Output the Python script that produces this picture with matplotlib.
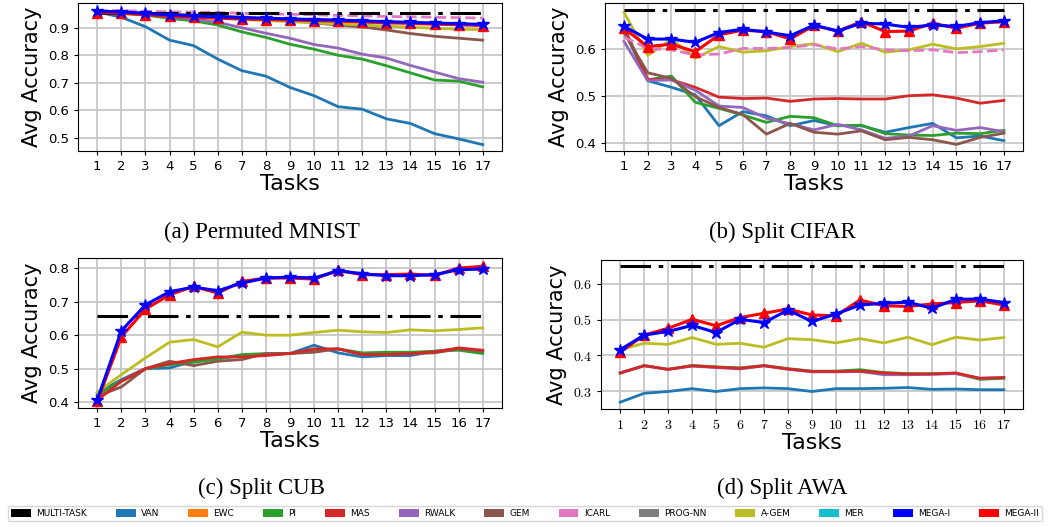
import matplotlib
matplotlib.use('Agg')
import matplotlib.pyplot as plt
from matplotlib.patches import Patch

plt.rcParams['mathtext.fontset'] = 'cm'

tasks = list(range(1, 18))

# ---------------- (a) Permuted MNIST ----------------
mnist_multitask = 0.955
mnist_van = [0.958, 0.938, 0.904, 0.855, 0.835, 0.786, 0.744, 0.724, 0.683, 0.653,
             0.613, 0.604, 0.569, 0.552, 0.515, 0.496, 0.475]
mnist_pi = [0.958, 0.952, 0.946, 0.934, 0.925, 0.91, 0.885, 0.865, 0.84, 0.822,
            0.8, 0.786, 0.762, 0.736, 0.71, 0.706, 0.685]
mnist_rwalk = [0.958, 0.955, 0.948, 0.94, 0.932, 0.92, 0.9, 0.88, 0.862, 0.839,
               0.826, 0.804, 0.79, 0.763, 0.739, 0.715, 0.702]
mnist_gem = [0.957, 0.955, 0.952, 0.949, 0.946, 0.943, 0.938, 0.932, 0.925, 0.918,
             0.91, 0.903, 0.892, 0.879, 0.869, 0.862, 0.855]
mnist_icarl = [0.963, 0.962, 0.96, 0.958, 0.957, 0.955, 0.953, 0.951, 0.949, 0.947,
               0.945, 0.943, 0.941, 0.94, 0.938, 0.937, 0.935]
mnist_agem = [0.957, 0.955, 0.95, 0.945, 0.94, 0.935, 0.93, 0.926, 0.922, 0.918,
              0.914, 0.91, 0.906, 0.902, 0.898, 0.895, 0.893]
mnist_mega1 = [0.96, 0.958, 0.952, 0.947, 0.944, 0.94, 0.937, 0.935, 0.932, 0.93,
               0.928, 0.925, 0.922, 0.92, 0.917, 0.915, 0.912]
mnist_mega2 = [0.955, 0.953, 0.948, 0.942, 0.938, 0.935, 0.932, 0.93, 0.928, 0.926,
               0.924, 0.921, 0.918, 0.916, 0.913, 0.911, 0.908]

# ---------------- (b) Split CIFAR ----------------
cifar_multitask = 0.683
cifar_van = [0.64, 0.532, 0.518, 0.502, 0.436, 0.466, 0.457, 0.436, 0.447, 0.436,
             0.436, 0.422, 0.432, 0.441, 0.41, 0.414, 0.404]
cifar_pi = [0.645, 0.534, 0.542, 0.486, 0.473, 0.459, 0.443, 0.456, 0.453, 0.436,
            0.437, 0.419, 0.416, 0.415, 0.42, 0.419, 0.426]
cifar_mas = [0.645, 0.535, 0.534, 0.518, 0.497, 0.494, 0.495, 0.488, 0.493, 0.494,
             0.493, 0.493, 0.5, 0.502, 0.495, 0.484, 0.49]
cifar_rwalk = [0.616, 0.532, 0.534, 0.512, 0.478, 0.475, 0.452, 0.44, 0.427, 0.439,
               0.427, 0.409, 0.414, 0.436, 0.426, 0.432, 0.423]
cifar_gem = [0.635, 0.549, 0.537, 0.498, 0.475, 0.46, 0.418, 0.441, 0.422, 0.418,
             0.425, 0.406, 0.411, 0.406, 0.396, 0.411, 0.42]
cifar_icarl = [0.625, 0.601, 0.598, 0.587, 0.589, 0.601, 0.601, 0.603, 0.609, 0.6,
               0.605, 0.598, 0.596, 0.598, 0.592, 0.594, 0.598]
cifar_agem = [0.678, 0.586, 0.621, 0.58, 0.605, 0.593, 0.596, 0.605, 0.611, 0.594,
              0.612, 0.593, 0.598, 0.61, 0.6, 0.605, 0.612]
cifar_mega1 = [0.648, 0.621, 0.621, 0.614, 0.635, 0.642, 0.636, 0.628, 0.651, 0.638,
               0.655, 0.653, 0.646, 0.651, 0.648, 0.656, 0.66]
cifar_mega2 = [0.644, 0.605, 0.61, 0.594, 0.63, 0.64, 0.637, 0.621, 0.65, 0.638,
               0.658, 0.637, 0.638, 0.655, 0.644, 0.655, 0.658]

# ---------------- (c) Split CUB ----------------
cub_multitask = 0.656
cub_van = [0.427, 0.467, 0.5, 0.502, 0.522, 0.529, 0.539, 0.542, 0.545, 0.57,
           0.547, 0.535, 0.539, 0.539, 0.552, 0.559, 0.552]
cub_pi = [0.422, 0.462, 0.499, 0.512, 0.519, 0.529, 0.542, 0.545, 0.545, 0.555,
          0.559, 0.547, 0.549, 0.549, 0.552, 0.555, 0.545]
cub_mas = [0.405, 0.462, 0.5, 0.515, 0.527, 0.535, 0.535, 0.539, 0.545, 0.559,
           0.559, 0.542, 0.542, 0.545, 0.55, 0.562, 0.555]
cub_gem = [0.417, 0.445, 0.5, 0.522, 0.509, 0.522, 0.527, 0.545, 0.545, 0.549,
           0.559, 0.542, 0.542, 0.545, 0.547, 0.559, 0.552]
cub_agem = [0.429, 0.482, 0.532, 0.579, 0.587, 0.565, 0.609, 0.6, 0.6, 0.608,
            0.615, 0.61, 0.608, 0.616, 0.613, 0.617, 0.622]
cub_mega1 = [0.407, 0.613, 0.691, 0.73, 0.744, 0.733, 0.756, 0.771, 0.774, 0.771,
             0.793, 0.784, 0.778, 0.778, 0.781, 0.796, 0.798]
cub_mega2 = [0.402, 0.595, 0.678, 0.721, 0.746, 0.726, 0.761, 0.771, 0.771, 0.768,
             0.794, 0.781, 0.781, 0.783, 0.779, 0.801, 0.806]

# ---------------- (d) Split AWA ----------------
awa_multitask = 0.65
awa_van = [0.269, 0.294, 0.299, 0.307, 0.299, 0.307, 0.309, 0.307, 0.299, 0.307,
           0.307, 0.308, 0.31, 0.305, 0.306, 0.304, 0.304]
awa_pi = [0.35, 0.372, 0.361, 0.372, 0.368, 0.365, 0.372, 0.363, 0.356, 0.356,
          0.36, 0.352, 0.349, 0.349, 0.35, 0.333, 0.336]
awa_rwalk = [0.351, 0.371, 0.361, 0.37, 0.366, 0.362, 0.371, 0.361, 0.354, 0.354,
             0.355, 0.346, 0.346, 0.347, 0.349, 0.336, 0.338]
awa_mas = [0.351, 0.371, 0.361, 0.371, 0.367, 0.364, 0.371, 0.362, 0.355, 0.355,
           0.356, 0.351, 0.348, 0.348, 0.351, 0.336, 0.338]
awa_agem = [0.416, 0.434, 0.431, 0.45, 0.431, 0.434, 0.423, 0.447, 0.444, 0.435,
            0.447, 0.435, 0.451, 0.43, 0.451, 0.443, 0.45]
awa_mega1 = [0.416, 0.457, 0.467, 0.484, 0.464, 0.501, 0.492, 0.527, 0.495, 0.516,
             0.541, 0.546, 0.549, 0.532, 0.557, 0.558, 0.548]
awa_mega2 = [0.409, 0.457, 0.476, 0.501, 0.483, 0.506, 0.518, 0.53, 0.513, 0.511,
             0.555, 0.539, 0.537, 0.544, 0.548, 0.553, 0.541]

method_names = ['MULTI-TASK', 'VAN', 'EWC', 'PI', 'MAS', 'RWALK', 'GEM', 'ICARL',
                'PROG-NN', 'A-GEM', 'MER', 'MEGA-I', 'MEGA-II']
method_colors = ['black', '#1f77b4', '#ff7f0e', '#2ca02c', '#d62728', '#9467bd',
                 '#8c564b', '#e377c2', '#7f7f7f', '#bcbd22', '#17becf', '#0000ff', '#ff0000']
col = dict(zip(method_names, method_colors))

fig = plt.figure(figsize=(10.5, 5.27), dpi=100)

ax_a = fig.add_axes([0.0743, 0.7135, 0.4038, 0.2808])
ax_b = fig.add_axes([0.5762, 0.7135, 0.398, 0.2808])
ax_c = fig.add_axes([0.0743, 0.2258, 0.4038, 0.2846])
ax_d = fig.add_axes([0.5724, 0.2239, 0.4019, 0.2827])


def draw(ax, multitask, lines, mega1, mega2, dashed=None):
    for name, vals in lines:
        ax.plot(tasks, vals, color=col[name], lw=2, zorder=2)
    if dashed is not None:
        ax.plot(tasks, dashed, color=col['ICARL'], lw=2, ls='--', zorder=2)
    ax.plot(tasks, [multitask] * len(tasks), color='black', lw=2.2,
            ls=(0, (10, 2.5, 1.5, 2.5)), zorder=3)
    ax.plot(tasks, mega2, color=col['MEGA-II'], lw=2.2, marker='^', ms=7.5, zorder=4)
    ax.plot(tasks, mega1, color=col['MEGA-I'], lw=2.2, marker='*', ms=9, zorder=5)
    ax.set_xticks(tasks)
    ax.grid(True, color='0.78', lw=1.3)
    ax.set_axisbelow(True)
    ax.tick_params(labelsize=9.5, length=3)
    ax.set_xlabel('Tasks', fontsize=16, labelpad=1)
    ax.set_ylabel('Avg Accuracy', fontsize=15, labelpad=4)


draw(ax_a, mnist_multitask,
     [('VAN', mnist_van), ('PI', mnist_pi), ('RWALK', mnist_rwalk),
      ('GEM', mnist_gem), ('A-GEM', mnist_agem)],
     mnist_mega1, mnist_mega2, dashed=mnist_icarl)
ax_a.set_ylim(0.452, 0.99)
ax_a.set_yticks([0.5, 0.6, 0.7, 0.8, 0.9])

draw(ax_b, cifar_multitask,
     [('VAN', cifar_van), ('PI', cifar_pi), ('MAS', cifar_mas),
      ('RWALK', cifar_rwalk), ('GEM', cifar_gem), ('A-GEM', cifar_agem)],
     cifar_mega1, cifar_mega2, dashed=cifar_icarl)
ax_b.set_ylim(0.382, 0.698)
ax_b.set_yticks([0.4, 0.5, 0.6])

draw(ax_c, cub_multitask,
     [('VAN', cub_van), ('PI', cub_pi), ('GEM', cub_gem), ('MAS', cub_mas),
      ('A-GEM', cub_agem)],
     cub_mega1, cub_mega2)
ax_c.set_ylim(0.382, 0.831)
ax_c.set_yticks([0.4, 0.5, 0.6, 0.7, 0.8])

draw(ax_d, awa_multitask,
     [('VAN', awa_van), ('PI', awa_pi), ('RWALK', awa_rwalk), ('MAS', awa_mas),
      ('A-GEM', awa_agem)],
     awa_mega1, awa_mega2)
ax_d.set_ylim(0.25, 0.667)
ax_d.set_yticks([0.3, 0.4, 0.5, 0.6])
# panel (d) uses Computer Modern style tick labels
ax_d.set_yticklabels(['$0.3$', '$0.4$', '$0.5$', '$0.6$'])
ax_d.set_xticklabels(['$%d$' % t for t in tasks])
ax_d.tick_params(labelsize=10)

cap = dict(fontsize=16.5, family='Liberation Serif', ha='center', va='center')
fig.text(0.2495, 0.5598, '(a) Permuted MNIST', **cap)
fig.text(0.745, 0.5598, '(b) Split CIFAR', **cap)
fig.text(0.2495, 0.074, '(c) Split CUB', **cap)
fig.text(0.745, 0.074, '(d) Split AWA', **cap)

handles = [Patch(facecolor=c, label=n) for n, c in zip(method_names, method_colors)]
fig.legend(handles=handles, loc='lower left', bbox_to_anchor=(0.003, 0.002, 0.994, 0.04),
           ncol=13, mode='expand', fontsize=6.5, handlelength=2.2, handleheight=0.9,
           handletextpad=0.6, borderpad=0.35, frameon=True, fancybox=True,
           edgecolor='0.8')

fig.savefig('out.png', dpi=100)
